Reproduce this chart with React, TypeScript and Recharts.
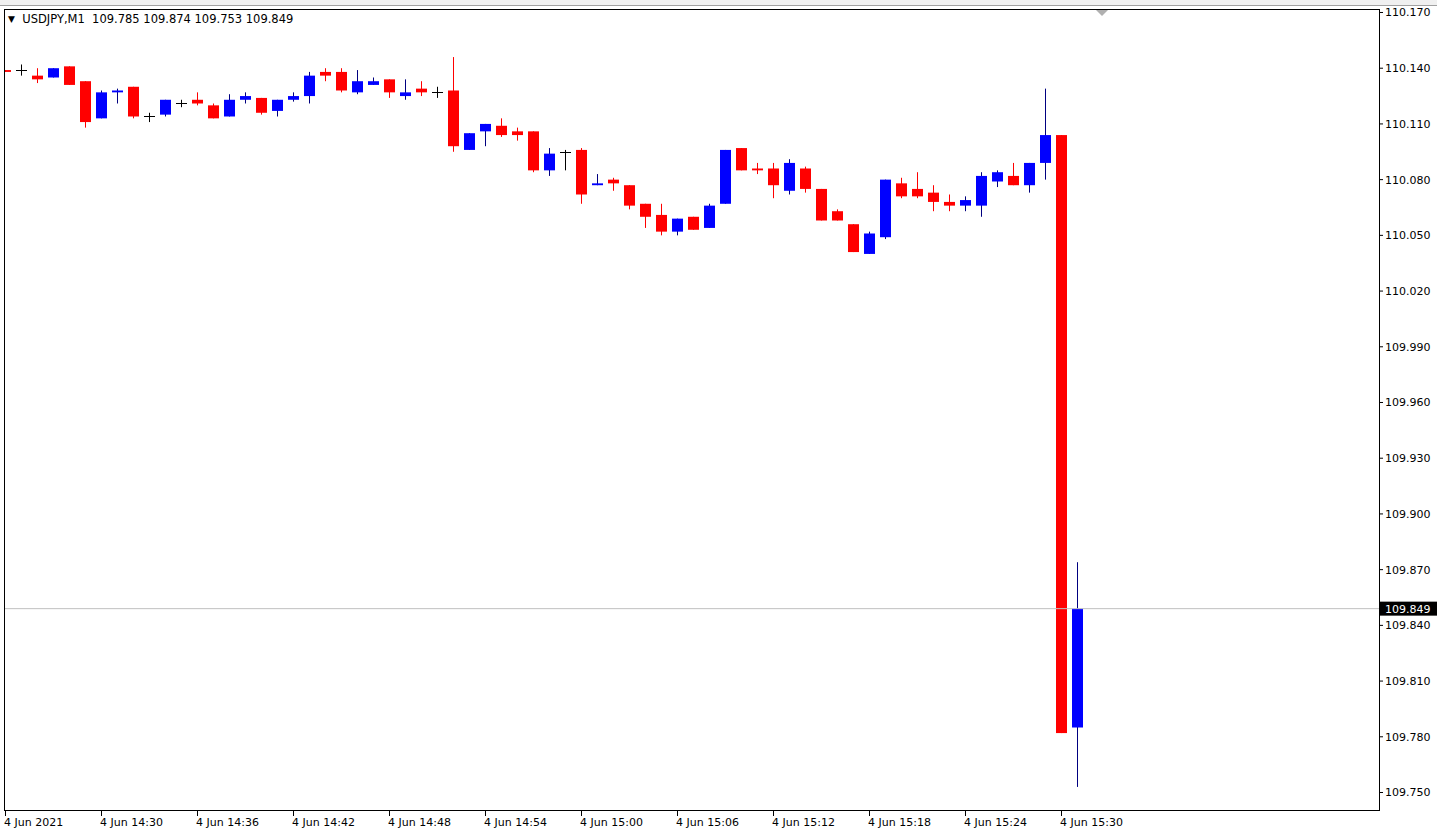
import React from "react";
import { ComposedChart, Bar, XAxis, YAxis, ReferenceLine } from "recharts";

// USDJPY M1 candles, 14:24 .. 15:31
const opens = [
  110.139, 110.139, 110.136, 110.135, 110.141, 110.133, 110.113, 110.127, 110.130, 110.114,
  110.115, 110.121, 110.123, 110.120, 110.114, 110.123, 110.124, 110.117, 110.123, 110.125,
  110.138, 110.138, 110.127, 110.131, 110.134, 110.125, 110.129, 110.127, 110.128, 110.096,
  110.106, 110.109, 110.106, 110.106, 110.085, 110.095, 110.096, 110.077, 110.080, 110.077,
  110.067, 110.061, 110.052, 110.060, 110.054, 110.067, 110.097, 110.086, 110.086, 110.074,
  110.086, 110.075, 110.063, 110.056, 110.040, 110.049, 110.078, 110.075, 110.073, 110.068,
  110.066, 110.066, 110.079, 110.082, 110.077, 110.089, 110.104, 109.785,
];
const highs = [
  110.139, 110.142, 110.140, 110.140, 110.141, 110.133, 110.128, 110.129, 110.130, 110.116,
  110.123, 110.123, 110.127, 110.121, 110.126, 110.127, 110.124, 110.123, 110.127, 110.138,
  110.140, 110.140, 110.139, 110.135, 110.134, 110.134, 110.133, 110.130, 110.146, 110.105,
  110.110, 110.113, 110.108, 110.106, 110.097, 110.096, 110.097, 110.083, 110.081, 110.077,
  110.067, 110.067, 110.059, 110.060, 110.067, 110.096, 110.097, 110.089, 110.089, 110.091,
  110.087, 110.075, 110.064, 110.056, 110.052, 110.080, 110.081, 110.084, 110.077, 110.072,
  110.071, 110.084, 110.085, 110.089, 110.089, 110.129, 110.104, 109.874,
];
const lows = [
  110.138, 110.136, 110.132, 110.135, 110.131, 110.108, 110.113, 110.121, 110.113, 110.111,
  110.114, 110.119, 110.120, 110.113, 110.114, 110.121, 110.115, 110.114, 110.122, 110.121,
  110.133, 110.127, 110.126, 110.131, 110.124, 110.123, 110.125, 110.124, 110.095, 110.096,
  110.098, 110.103, 110.101, 110.084, 110.082, 110.085, 110.067, 110.077, 110.074, 110.064,
  110.054, 110.050, 110.050, 110.053, 110.054, 110.067, 110.085, 110.083, 110.070, 110.072,
  110.073, 110.058, 110.058, 110.041, 110.040, 110.048, 110.070, 110.070, 110.063, 110.063,
  110.063, 110.060, 110.076, 110.077, 110.073, 110.080, 109.782, 109.753,
];
const closes = [
  110.138, 110.139, 110.134, 110.140, 110.131, 110.111, 110.127, 110.128, 110.114, 110.114,
  110.123, 110.121, 110.121, 110.113, 110.123, 110.125, 110.116, 110.123, 110.125, 110.136,
  110.136, 110.128, 110.133, 110.133, 110.127, 110.127, 110.127, 110.127, 110.098, 110.105,
  110.110, 110.104, 110.104, 110.085, 110.094, 110.095, 110.072, 110.078, 110.078, 110.066,
  110.060, 110.052, 110.059, 110.053, 110.066, 110.096, 110.085, 110.085, 110.077, 110.089,
  110.075, 110.058, 110.058, 110.041, 110.051, 110.080, 110.071, 110.071, 110.068, 110.066,
  110.069, 110.082, 110.084, 110.077, 110.089, 110.104, 109.782, 109.849,
];

const timeTicks = [0, 6, 12, 18, 24, 30, 36, 42, 48, 54, 60, 66];
const timeLabels = [
  "4 Jun 2021", "4 Jun 14:30", "4 Jun 14:36", "4 Jun 14:42", "4 Jun 14:48", "4 Jun 14:54",
  "4 Jun 15:00", "4 Jun 15:06", "4 Jun 15:12", "4 Jun 15:18", "4 Jun 15:24", "4 Jun 15:30",
];
const priceTicks = [
  110.17, 110.14, 110.11, 110.08, 110.05, 110.02, 109.99, 109.96, 109.93, 109.9,
  109.87, 109.84, 109.81, 109.78, 109.75,
];
const lastPrice = 109.849;

const data = opens.map((o, i) => ({
  i,
  open: o,
  high: highs[i],
  low: lows[i],
  close: closes[i],
}));

const FONT = "DejaVu Sans";

function Candle(props: any) {
  const { x, y, width, height, payload } = props;
  const { open, close, high, low } = payload;
  const top = Math.min(y, y + height);
  const h = Math.abs(height);
  const k = h / (high - low);
  const yOf = (v: number) => top + (high - v) * k;
  const cx = Math.round(x + width / 2) + 0.5;
  const half = 5.5;
  if (open === close) {
    const yc = Math.round(yOf(open)) + 0.5;
    return (
      <g>
        <line x1={cx} x2={cx} y1={top} y2={top + h} stroke="#000" strokeWidth={1} />
        <line x1={cx - half} x2={cx + half} y1={yc} y2={yc} stroke="#000" strokeWidth={1} />
      </g>
    );
  }
  const up = close > open;
  const bTop = Math.min(yOf(open), yOf(close));
  const bH = Math.max(Math.abs(yOf(open) - yOf(close)), 1.5);
  return (
    <g>
      <line x1={cx} x2={cx} y1={top} y2={top + h} stroke={up ? "#000080" : "#ff0000"} strokeWidth={1} />
      <rect x={cx - half} y={bTop} width={half * 2} height={bH} fill={up ? "#0000ff" : "#ff0000"} />
    </g>
  );
}

function TimeTick(props: any) {
  const { x, y, payload } = props;
  const idx = timeTicks.indexOf(payload.value);
  const px = Math.round(x) + 0.5;
  return (
    <g>
      <line x1={px} x2={px} y1={y + 1} y2={y + 6} stroke="#000" />
      <text x={Math.round(x) - 1} y={y + 16} fontSize={11} fontFamily={FONT} fill="#000">
        {timeLabels[idx]}
      </text>
    </g>
  );
}

function PriceTag(props: any) {
  const vb = props.viewBox || {};
  const left = vb.x + vb.width + 1;
  const yy = vb.y;
  return (
    <g>
      <rect x={left} y={yy - 7} width={58} height={14} fill="#000" />
      <text x={left + 5} y={yy + 4} fontSize={11} fontFamily={FONT} fill="#fff">
        {lastPrice.toFixed(3)}
      </text>
    </g>
  );
}

export default function App() {
  return (
    <div style={{ position: "absolute", left: 0, top: 0, width: 1437, height: 835, background: "#fff", fontFamily: FONT }}>
      {/* terminal strip above the chart */}
      <div style={{ position: "absolute", left: 0, top: 0, width: 1437, height: 5, background: "#f0f0f0", borderBottom: "1px solid #a0a0a0" }} />
      <ComposedChart
        width={1437}
        height={835}
        data={data}
        margin={{ top: 9, left: 4, right: 0, bottom: 0 }}
      >
        <XAxis
          dataKey="i"
          type="number"
          domain={[-0.08, 85.86]}
          allowDataOverflow
          ticks={timeTicks}
          interval={0}
          height={25}
          axisLine={false}
          tickLine={false}
          tickSize={0}
          tickMargin={0}
          tick={<TimeTick />}
        />
        <YAxis
          orientation="right"
          type="number"
          domain={[109.74058, 110.17188]}
          allowDataOverflow
          ticks={priceTicks}
          interval={0}
          width={58}
          axisLine={false}
          tickSize={4}
          tickMargin={2}
          tickLine={{ stroke: "#000" }}
          tick={{ fontSize: 11, fill: "#000", fontFamily: FONT }}
          tickFormatter={(v: number) => v.toFixed(3)}
        />
        <ReferenceLine y={lastPrice} stroke="#c0c0c0" strokeWidth={1} label={<PriceTag />} />
        <Bar
          dataKey={(d: any) => [d.low, d.high]}
          barSize={11}
          shape={<Candle />}
          isAnimationActive={false}
        />
      </ComposedChart>
      {/* chart frame */}
      <div style={{ position: "absolute", left: 4, top: 9, width: 1376, height: 802, border: "1px solid #000", boxSizing: "border-box", pointerEvents: "none" }} />
      {/* header */}
      <div style={{ position: "absolute", left: 8, top: 12, fontSize: 11.5, lineHeight: "14px", color: "#000", whiteSpace: "pre" }}>
        <span style={{ fontSize: 9, verticalAlign: "1px" }}>▼</span>
        {"  USDJPY,M1  109.785 109.874 109.753 109.849"}
      </div>
      {/* chart shift marker */}
      <svg style={{ position: "absolute", left: 1096, top: 10 }} width={13} height={7}>
        <polygon points="0,0 12,0 6,6" fill="#b0b0b0" />
      </svg>
    </div>
  );
}
